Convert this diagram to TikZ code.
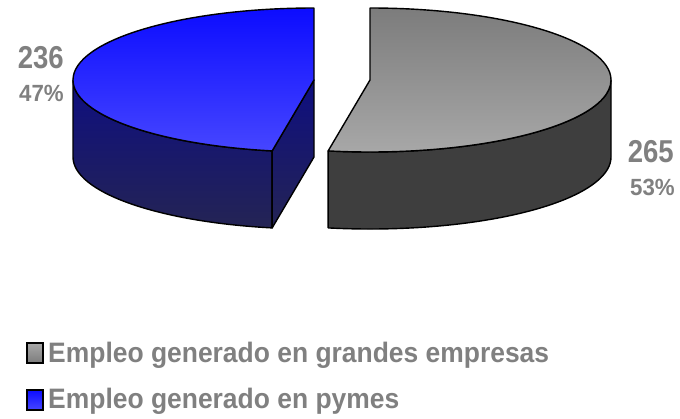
\documentclass[tikz,border=0pt]{standalone}
\usepackage{fontspec}
\setmainfont{Liberation Sans}
\usetikzlibrary{calc}

\definecolor{labelgray}{RGB}{128,128,128}
\definecolor{bluetopA}{RGB}{12,12,255}
\definecolor{bluetopB}{RGB}{70,70,255}
\definecolor{bluesideA}{RGB}{14,14,128}
\definecolor{bluesideB}{RGB}{36,36,84}
\definecolor{graytopA}{RGB}{124,124,124}
\definecolor{graytopB}{RGB}{168,168,168}
\definecolor{grayside}{RGB}{62,62,62}

\begin{document}
\begin{tikzpicture}[x=0.03cm,y=-0.03cm,
    edge/.style={draw=black, line width=1.2pt, line join=round},
    lbl/.style={text=labelgray, inner sep=0pt},
    key/.style={draw=black, line width=1.1pt, minimum width=13.6pt, minimum height=17pt, inner sep=0pt}]
  \useasboundingbox (0,0) rectangle (680,418);
  \coordinate (Cb) at (314,80);
  \coordinate (Db) at (314,157);
  \coordinate (Cg) at (370,80);
  \coordinate (Dg) at (370,157);

  \shadedraw[edge, top color=bluesideA, bottom color=bluesideB]
    ($(Cb)+(180:241 and 72)$) arc[start angle=180, end angle=100, x radius=241, y radius=72]
    -- ($(Db)+(100:241 and 72)$) arc[start angle=100, end angle=180, x radius=241, y radius=72] -- cycle;
  \shadedraw[edge, top color=bluesideA, bottom color=bluesideB]
    (Cb) -- ($(Cb)+(100:241 and 72)$) -- ($(Db)+(100:241 and 72)$) -- (Db) -- cycle;
  \shadedraw[edge, top color=bluetopA, bottom color=bluetopB]
    (Cb) -- ($(Cb)+(270:241 and 72)$) arc[start angle=270, end angle=100, x radius=241, y radius=72] -- cycle;

  \filldraw[edge, fill=grayside]
    ($(Cg)+(0:241 and 72)$) arc[start angle=0, end angle=100, x radius=241, y radius=72]
    -- ($(Dg)+(100:241 and 72)$) arc[start angle=100, end angle=0, x radius=241, y radius=72] -- cycle;
  \shadedraw[edge, top color=graytopA, bottom color=graytopB]
    (Cg) -- ($(Cg)+(270:241 and 72)$) arc[start angle=270, end angle=460, x radius=241, y radius=72] -- cycle;

  \node[lbl, anchor=base east, font=\bfseries\fontsize{27}{32}\selectfont] (n236) at (64,68) {\scalebox{0.87}[1]{236}};
  \node[lbl, anchor=base east, font=\bfseries\fontsize{20}{24}\selectfont] (p47) at (64,101) {\scalebox{0.95}[1]{47\%}};
  \node[lbl, anchor=base east, font=\bfseries\fontsize{27}{32}\selectfont] (n265) at (674,162) {\scalebox{0.87}[1]{265}};
  \node[lbl, anchor=base east, font=\bfseries\fontsize{20}{24}\selectfont] (p53) at (675,195) {\scalebox{0.95}[1]{53\%}};

  \node[key, top color=graytopB, bottom color=graytopA] (kgrandes) at (35,353) {};
  \node[key, top color=bluetopA, bottom color=bluetopB] (kpymes) at (35,400) {};
  \node[lbl, anchor=base west, font=\bfseries\fontsize{24}{29}\selectfont] (tgrandes) at (48,362) {\scalebox{0.94}[1]{Empleo generado en grandes empresas}};
  \node[lbl, anchor=base west, font=\bfseries\fontsize{24}{29}\selectfont] (tpymes) at (48,408) {\scalebox{0.94}[1]{Empleo generado en pymes}};
\end{tikzpicture}
\end{document}
